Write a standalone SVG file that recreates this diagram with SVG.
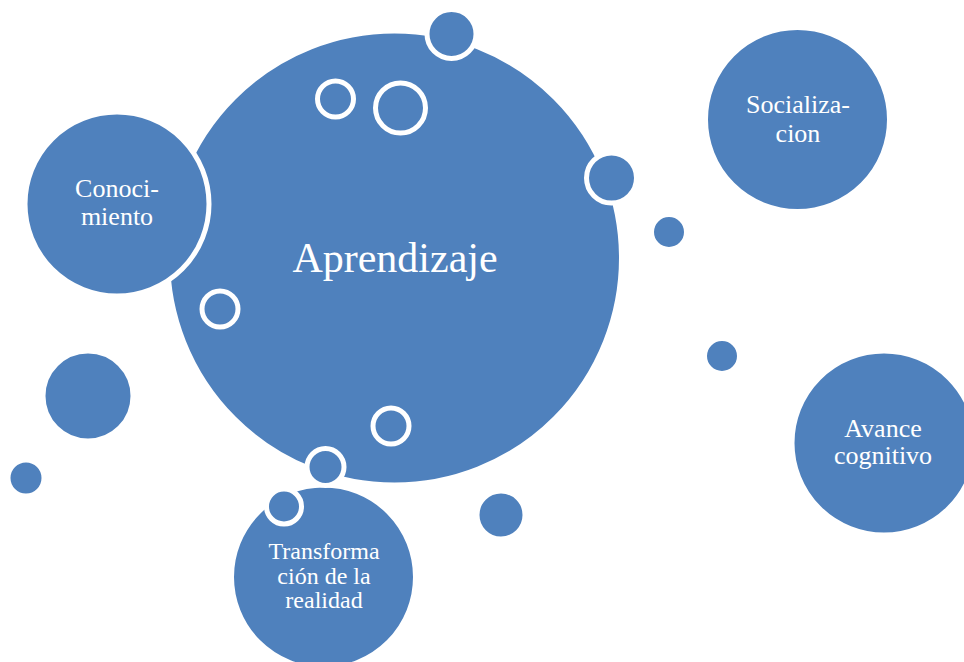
<svg xmlns="http://www.w3.org/2000/svg" width="964" height="662" viewBox="0 0 964 662">
<style>
.c{fill:#4F81BD;stroke:#FFFFFF;stroke-width:5}
.ring{fill:#4F81BD;stroke:#FFFFFF;stroke-width:5}
.t{fill:#FFFFFF;font-family:"Liberation Serif","Times New Roman",serif;text-anchor:middle}
</style>
<rect width="964" height="662" fill="#FFFFFF"/>
<g id="connectors"></g>
<g id="decor">
<circle class="c" cx="88" cy="396" r="45"/>
<circle class="c" cx="26" cy="478" r="18"/>
<circle class="c" cx="501" cy="515" r="24"/>
<circle class="c" cx="669" cy="232" r="17.5"/>
<circle class="c" cx="722" cy="356" r="17.5"/>
</g>
<g id="node-aprendizaje">
<circle class="c" cx="394.5" cy="258" r="227"/>
<text class="t" x="395" y="272" font-size="42">Aprendizaje</text>
</g>
<g id="rings">
<circle class="ring" cx="335.5" cy="99" r="18"/>
<circle class="ring" cx="400.5" cy="108" r="25"/>
<circle class="ring" cx="220" cy="309" r="18"/>
<circle class="ring" cx="391" cy="426" r="18"/>
</g>
<g id="bubbles">
<circle class="c" cx="451.5" cy="34" r="24.5"/>
<circle class="c" cx="611.5" cy="178" r="25"/>
</g>
<g id="node-conocimiento">
<circle class="c" cx="117" cy="204" r="92"/>
<text class="t" x="117" y="197" font-size="26">Conoci-</text>
<text class="t" x="117" y="225" font-size="26">miento</text>
</g>
<g id="node-transformacion">
<circle class="c" cx="323.5" cy="577" r="92"/>
<text class="t" x="324" y="559" font-size="24">Transforma</text>
<text class="t" x="324" y="584" font-size="24">ción de la</text>
<text class="t" x="324" y="608" font-size="24">realidad</text>
</g>
<g id="bubbles2">
<circle class="c" cx="325.5" cy="467" r="18.5"/>
<circle class="c" cx="284" cy="506.5" r="17.5"/>
</g>
<g id="node-socializacion">
<circle class="c" cx="797.5" cy="119.5" r="92"/>
<text class="t" x="798" y="113" font-size="26">Socializa-</text>
<text class="t" x="798" y="142" font-size="26">cion</text>
</g>
<g id="node-avance">
<circle class="c" cx="884" cy="443" r="92"/>
<text class="t" x="883" y="437" font-size="26">Avance</text>
<text class="t" x="883" y="464" font-size="26">cognitivo</text>
</g>
</svg>
